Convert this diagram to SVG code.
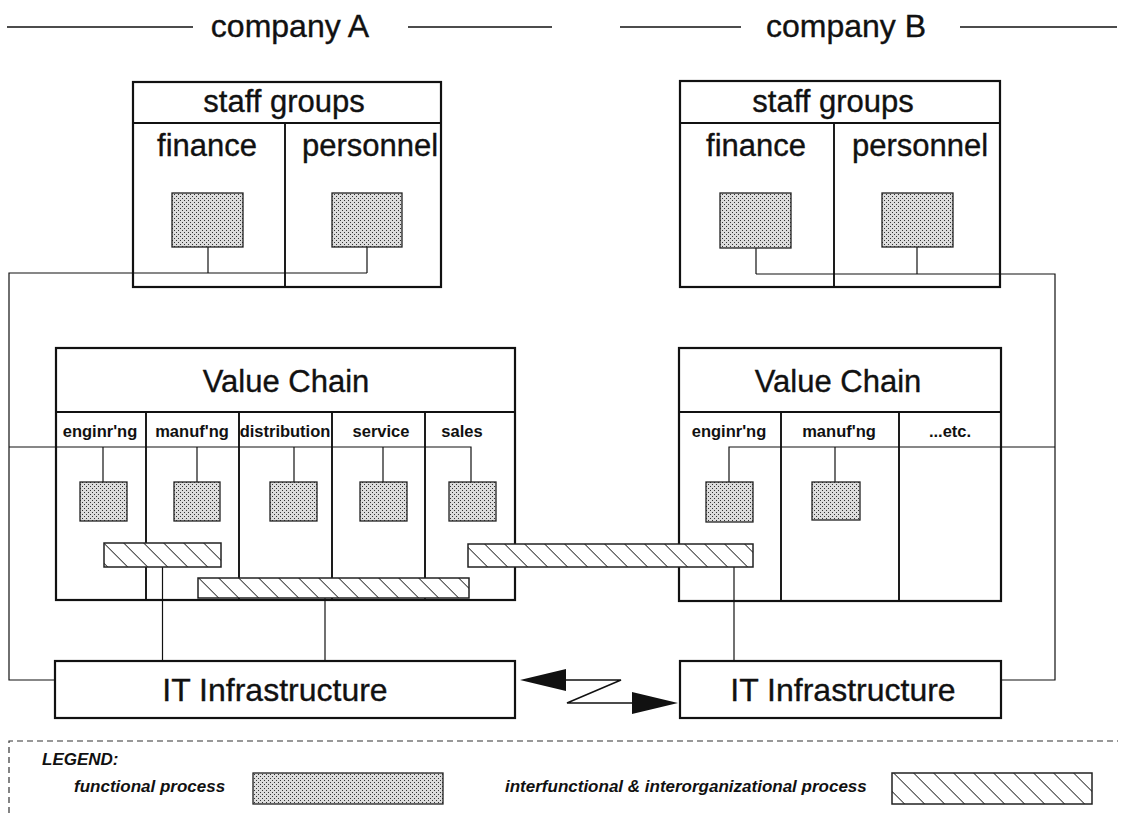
<svg xmlns="http://www.w3.org/2000/svg" width="1123" height="813" viewBox="0 0 1123 813">
  <style>
    text { font-family: "Liberation Sans", Arial, Helvetica, sans-serif; fill: #111; }
    .big { font-size: 31px; text-anchor: middle; stroke: #111; stroke-width: 0.35; }
    .hdr { font-size: 32px; text-anchor: middle; stroke: #111; stroke-width: 0.35; }
    .col { font-size: 16.5px; font-weight: bold; text-anchor: middle; }
    .leg { font-size: 17px; font-weight: bold; font-style: italic; }
    .box { fill: #fff; stroke: #111; stroke-width: 2.2; }
    .div { stroke: #111; stroke-width: 1.9; fill: none; }
    .wire { stroke: #111; stroke-width: 1.2; fill: none; }
    .rule { stroke: #111; stroke-width: 1.7; fill: none; }
    .func { fill: url(#dots); stroke: #222; stroke-width: 1.3; }
    .hatch { fill: url(#hatch); stroke: #222; stroke-width: 1.5; }
    .dash { stroke: #333; stroke-width: 1.2; stroke-dasharray: 6 4; fill: none; }
  </style>
  <defs>
    <!-- stipple used for functional processes -->
    <pattern id="dots" patternUnits="userSpaceOnUse" width="4" height="4">
      <rect width="4" height="4" fill="#dcdcdc"/>
      <rect x="0" y="0" width="1" height="1" fill="#333"/>
      <rect x="2" y="2" width="1" height="1" fill="#333"/>
    </pattern>
    <!-- diagonal hatching for interfunctional processes -->
    <pattern id="hatch" patternUnits="userSpaceOnUse" width="14.14" height="14.14" patternTransform="rotate(-45)">
      <rect width="14.14" height="14.14" fill="#fff"/>
      <line x1="0" y1="0" x2="0" y2="14.14" stroke="#111" stroke-width="1.6"/>
    </pattern>
  </defs>

  <!-- company headings -->
  <g id="heading-a">
    <line class="rule" x1="7" y1="27" x2="193" y2="27"/>
    <text class="hdr" x="290" y="37">company A</text>
    <line class="rule" x1="408" y1="27" x2="552" y2="27"/>
  </g>
  <g id="heading-b">
    <line class="rule" x1="620" y1="27" x2="741" y2="27"/>
    <text class="hdr" x="846" y="37">company B</text>
    <line class="rule" x1="960" y1="27" x2="1117" y2="27"/>
  </g>

  <!-- staff groups, company A -->
  <g id="staff-a">
    <rect class="box" x="133" y="82" width="308" height="205"/>
    <line class="div" x1="133" y1="123" x2="441" y2="123"/>
    <line class="div" x1="285" y1="123" x2="285" y2="287"/>
    <text class="big" x="284" y="112">staff groups</text>
    <text class="big" x="207" y="156">finance</text>
    <text class="big" x="370" y="156">personnel</text>
  </g>

  <!-- staff groups, company B -->
  <g id="staff-b">
    <rect class="box" x="680" y="81" width="320" height="206"/>
    <line class="div" x1="680" y1="123" x2="1000" y2="123"/>
    <line class="div" x1="834" y1="123" x2="834" y2="287"/>
    <text class="big" x="833" y="112">staff groups</text>
    <text class="big" x="756" y="156">finance</text>
    <text class="big" x="920" y="156">personnel</text>
  </g>

  <!-- value chain, company A -->
  <g id="value-chain-a">
    <rect class="box" x="56" y="348" width="459" height="252"/>
    <line class="div" x1="56" y1="412" x2="515" y2="412"/>
    <line class="div" x1="146" y1="412" x2="146" y2="600"/>
    <line class="div" x1="239" y1="412" x2="239" y2="600"/>
    <line class="div" x1="332" y1="412" x2="332" y2="600"/>
    <line class="div" x1="425" y1="412" x2="425" y2="600"/>
    <text class="big" x="286" y="392">Value Chain</text>
    <text class="col" x="100" y="437">enginr'ng</text>
    <text class="col" x="192" y="437">manuf'ng</text>
    <text class="col" x="285" y="437">distribution</text>
    <text class="col" x="381" y="437">service</text>
    <text class="col" x="462" y="437">sales</text>
  </g>

  <!-- value chain, company B -->
  <g id="value-chain-b">
    <rect class="box" x="679" y="348" width="322" height="253"/>
    <line class="div" x1="679" y1="412" x2="1001" y2="412"/>
    <line class="div" x1="781" y1="412" x2="781" y2="601"/>
    <line class="div" x1="899" y1="412" x2="899" y2="601"/>
    <text class="big" x="838" y="392">Value Chain</text>
    <text class="col" x="729" y="437">enginr'ng</text>
    <text class="col" x="839" y="437">manuf'ng</text>
    <text class="col" x="950" y="437">...etc.</text>
  </g>

  <!-- IT infrastructure -->
  <g id="it-a">
    <rect class="box" x="55" y="661" width="460" height="57"/>
    <text class="big" style="font-size:32px" x="275" y="701">IT Infrastructure</text>
  </g>
  <g id="it-b">
    <rect class="box" x="680" y="661" width="321" height="57"/>
    <text class="big" style="font-size:32px" x="843" y="701">IT Infrastructure</text>
  </g>

  <!-- connectors -->
  <g id="connectors">
    <!-- staff group links and outer loops -->
    <polyline class="wire" points="55,680 9,680 9,273 367,273"/>
    <line class="wire" x1="208" y1="247" x2="208" y2="273"/>
    <line class="wire" x1="367" y1="247" x2="367" y2="273"/>
    <polyline class="wire" points="1001,680 1055,680 1055,274 756,274"/>
    <line class="wire" x1="756" y1="248" x2="756" y2="274"/>
    <line class="wire" x1="917" y1="247" x2="917" y2="274"/>
    <!-- value chain bus lines -->
    <polyline class="wire" points="9,447 471,447 471,482"/>
    <line class="wire" x1="103" y1="447" x2="103" y2="482"/>
    <line class="wire" x1="197" y1="447" x2="197" y2="482"/>
    <line class="wire" x1="294" y1="447" x2="294" y2="482"/>
    <line class="wire" x1="383" y1="447" x2="383" y2="482"/>
    <polyline class="wire" points="729,482 729,447 1055,447"/>
    <line class="wire" x1="835" y1="447" x2="835" y2="482"/>
    <!-- process links down to IT infrastructure -->
    <line class="wire" x1="162.5" y1="567" x2="162.5" y2="661"/>
    <line class="wire" x1="325" y1="598" x2="325" y2="661"/>
    <line class="wire" x1="734" y1="567" x2="734" y2="661"/>
    <!-- link between the two IT infrastructures -->
    <polyline class="wire" style="stroke-width:1.5" points="560,680 621,680 567,703 636,703"/>
    <polygon points="520,680 566,669 566,691" fill="#111"/>
    <polygon points="678,703 632,692 632,714" fill="#111"/>
  </g>

  <!-- functional processes -->
  <g id="fp-finance-a"><rect class="func" x="172" y="193" width="71" height="54"/></g>
  <g id="fp-personnel-a"><rect class="func" x="332" y="193" width="70" height="54"/></g>
  <g id="fp-finance-b"><rect class="func" x="720" y="193" width="71" height="55"/></g>
  <g id="fp-personnel-b"><rect class="func" x="882" y="193" width="71" height="54"/></g>
  <g id="fp-eng-a"><rect class="func" x="80" y="482" width="47" height="39"/></g>
  <g id="fp-manuf-a"><rect class="func" x="174" y="482" width="46" height="39"/></g>
  <g id="fp-dist-a"><rect class="func" x="270" y="482" width="47" height="39"/></g>
  <g id="fp-service-a"><rect class="func" x="360" y="482" width="47" height="39"/></g>
  <g id="fp-sales-a"><rect class="func" x="449" y="482" width="47" height="39"/></g>
  <g id="fp-eng-b"><rect class="func" x="706" y="482" width="47" height="40"/></g>
  <g id="fp-manuf-b"><rect class="func" x="812" y="482" width="48" height="38"/></g>

  <!-- interfunctional / interorganizational processes -->
  <g id="ip-eng-manuf"><rect class="hatch" x="104" y="543" width="117" height="24"/></g>
  <g id="ip-manuf-sales"><rect class="hatch" x="198" y="578" width="271" height="20"/></g>
  <g id="ip-sales-eng-b"><rect class="hatch" x="468" y="544" width="285" height="23"/></g>

  <!-- legend -->
  <g id="legend">
    <polyline class="dash" points="9,813 9,741 1118,741"/>
    <text class="leg" x="42" y="765">LEGEND:</text>
    <text class="leg" x="74" y="792">functional process</text>
    <rect class="func" x="253" y="773" width="190" height="31"/>
    <text class="leg" x="505" y="792">interfunctional &amp; interorganizational process</text>
    <rect class="hatch" x="892" y="773" width="200" height="31"/>
  </g>
</svg>
